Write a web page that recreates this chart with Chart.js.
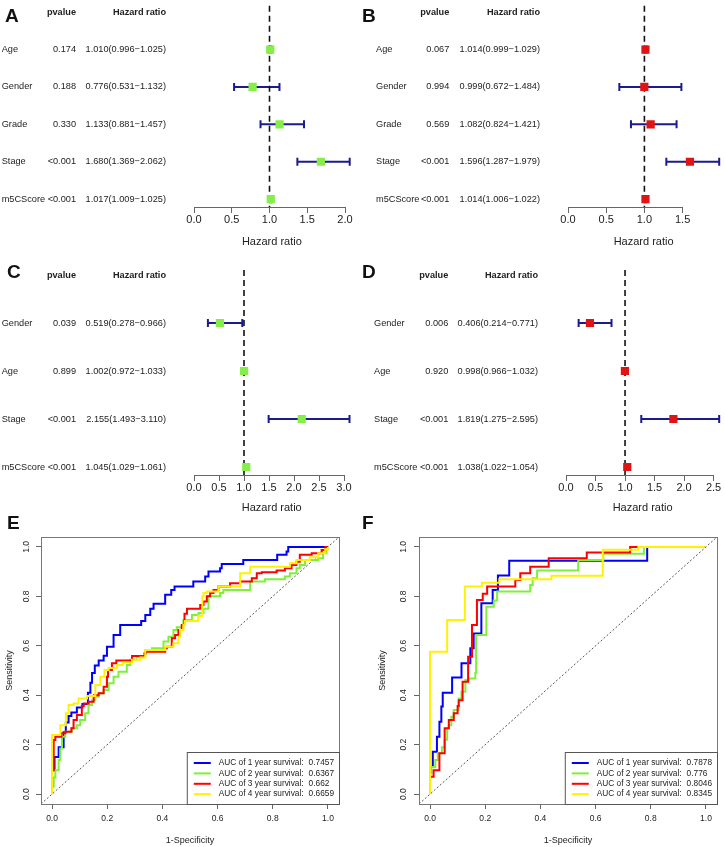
<!DOCTYPE html>
<html>
<head>
<meta charset="utf-8">
<script src="https://cdn.jsdelivr.net/npm/chart.js@4.4.0/dist/chart.umd.min.js"></script>
<style>
body { margin: 0; background: #fff; width: 725px; height: 847px; position: relative; overflow: hidden; font-family: "Liberation Sans", Arial, sans-serif; }
.panel { position: absolute; }
.tag { position: absolute; font: bold 19px/19px "Liberation Sans", Arial, sans-serif; color: #111; }
</style>
</head>
<body>
<div class="panel" style="left:0;top:0"><canvas id="cA" width="362" height="250"></canvas></div>
<div class="panel" style="left:362px;top:0"><canvas id="cB" width="363" height="250"></canvas></div>
<div class="panel" style="left:0;top:250px"><canvas id="cC" width="362" height="265"></canvas></div>
<div class="panel" style="left:362px;top:250px"><canvas id="cD" width="363" height="265"></canvas></div>
<div class="panel" style="left:0;top:515px"><canvas id="cE" width="362" height="332"></canvas></div>
<div class="panel" style="left:362px;top:515px"><canvas id="cF" width="363" height="332"></canvas></div>
<div class="tag" style="left:5px;top:6px">A</div>
<div class="tag" style="left:362px;top:6px">B</div>
<div class="tag" style="left:7px;top:262px">C</div>
<div class="tag" style="left:362px;top:262px">D</div>
<div class="tag" style="left:7px;top:513px">E</div>
<div class="tag" style="left:362px;top:513px">F</div>
<script>
// forest A
var namesA = ['Age', 'Gender', 'Grade', 'Stage', 'm5CScore'];
var pvalA = ['0.174', '0.188', '0.330', '<0.001', '<0.001'];
var hrA = [1.010, 0.776, 1.133, 1.680, 1.017];
var lowA = [0.996, 0.531, 0.881, 1.369, 1.009];
var highA = [1.025, 1.132, 1.457, 2.062, 1.025];
var ticksA = [0, 0.5, 1, 1.5, 2];

// forest B
var namesB = ['Age', 'Gender', 'Grade', 'Stage', 'm5CScore'];
var pvalB = ['0.067', '0.994', '0.569', '<0.001', '<0.001'];
var hrB = [1.014, 0.999, 1.082, 1.596, 1.014];
var lowB = [0.999, 0.672, 0.824, 1.287, 1.006];
var highB = [1.029, 1.484, 1.421, 1.979, 1.022];
var ticksB = [0, 0.5, 1, 1.5];

// forest C
var namesC = ['Gender', 'Age', 'Stage', 'm5CScore'];
var pvalC = ['0.039', '0.899', '<0.001', '<0.001'];
var hrC = [0.519, 1.002, 2.155, 1.045];
var lowC = [0.278, 0.972, 1.493, 1.029];
var highC = [0.966, 1.033, 3.110, 1.061];
var ticksC = [0, 0.5, 1, 1.5, 2, 2.5, 3];

// forest D
var namesD = ['Gender', 'Age', 'Stage', 'm5CScore'];
var pvalD = ['0.006', '0.920', '<0.001', '<0.001'];
var hrD = [0.406, 0.998, 1.819, 1.038];
var lowD = [0.214, 0.966, 1.275, 1.022];
var highD = [0.771, 1.032, 2.595, 1.054];
var ticksD = [0, 0.5, 1, 1.5, 2, 2.5];

// ROC curves, [1-specificity, sensitivity]
var rocTicks = [0, 0.2, 0.4, 0.6, 0.8, 1];
var rocYears = [1, 2, 3, 4];
var aucE = ['0.7457', '0.6367', '0.662', '0.6659'];
var aucF = ['0.7878', '0.776', '0.8046', '0.8345'];

var rocE1 = [[0,0],[0.009,0.097],[0.024,0.15],[0.042,0.19],[0.05,0.25],[0.06,0.29],[0.07,0.316],[0.09,0.33],[0.11,0.35],[0.13,0.365],[0.139,0.41],[0.145,0.45],[0.155,0.49],[0.169,0.52],[0.187,0.54],[0.199,0.56],[0.223,0.596],[0.247,0.644],[0.323,0.684],[0.338,0.70],[0.356,0.725],[0.368,0.75],[0.41,0.77],[0.432,0.806],[0.444,0.826],[0.512,0.84],[0.555,0.86],[0.567,0.88],[0.609,0.90],[0.615,0.914],[0.693,0.931],[0.816,0.947],[0.85,0.968],[0.856,0.981],[0.884,1],[1,1]];
var rocE2 = [[0,0],[0.006,0.03],[0.012,0.067],[0.024,0.097],[0.03,0.138],[0.036,0.185],[0.048,0.232],[0.072,0.252],[0.09,0.266],[0.102,0.279],[0.12,0.30],[0.132,0.327],[0.145,0.36],[0.157,0.38],[0.169,0.394],[0.187,0.408],[0.205,0.421],[0.223,0.448],[0.241,0.475],[0.271,0.495],[0.283,0.522],[0.307,0.543],[0.338,0.556],[0.362,0.583],[0.404,0.59],[0.422,0.617],[0.44,0.637],[0.452,0.664],[0.476,0.675],[0.507,0.704],[0.531,0.725],[0.549,0.733],[0.567,0.75],[0.609,0.80],[0.621,0.813],[0.718,0.826],[0.772,0.86],[0.844,0.869],[0.862,0.88],[0.886,0.893],[0.898,0.914],[0.917,0.927],[0.965,0.947],[0.982,0.954],[0.995,0.974],[1,0.99],[1,1]];
var rocE3 = [[0,0],[0.006,0.097],[0.012,0.219],[0.034,0.232],[0.048,0.246],[0.07,0.252],[0.078,0.266],[0.09,0.30],[0.108,0.32],[0.115,0.356],[0.133,0.367],[0.151,0.374],[0.169,0.40],[0.187,0.408],[0.199,0.434],[0.203,0.475],[0.217,0.502],[0.233,0.529],[0.29,0.54],[0.335,0.559],[0.34,0.57],[0.41,0.576],[0.416,0.59],[0.434,0.596],[0.446,0.63],[0.458,0.644],[0.47,0.664],[0.48,0.684],[0.489,0.73],[0.537,0.75],[0.549,0.765],[0.561,0.779],[0.573,0.80],[0.585,0.813],[0.603,0.826],[0.645,0.84],[0.682,0.853],[0.724,0.86],[0.742,0.873],[0.76,0.893],[0.814,0.897],[0.844,0.904],[0.868,0.914],[0.886,0.927],[0.898,0.94],[0.941,0.968],[0.977,0.974],[0.99,0.987],[1,1]];
var rocE4 = [[0,0],[0,0.202],[0.03,0.239],[0.05,0.279],[0.06,0.327],[0.078,0.36],[0.096,0.367],[0.127,0.387],[0.157,0.397],[0.175,0.441],[0.19,0.475],[0.205,0.502],[0.235,0.51],[0.256,0.522],[0.29,0.532],[0.32,0.543],[0.338,0.553],[0.41,0.583],[0.44,0.596],[0.458,0.61],[0.464,0.637],[0.476,0.664],[0.482,0.684],[0.53,0.70],[0.545,0.72],[0.549,0.80],[0.561,0.813],[0.603,0.82],[0.682,0.84],[0.718,0.893],[0.862,0.92],[0.886,0.934],[0.934,0.947],[0.965,0.958],[0.99,0.974],[1,0.99],[1,1]];

var rocF1 = [[0,0],[0.01,0.11],[0.025,0.171],[0.034,0.232],[0.041,0.293],[0.046,0.354],[0.08,0.41],[0.114,0.472],[0.146,0.529],[0.158,0.59],[0.186,0.65],[0.227,0.772],[0.246,0.826],[0.287,0.884],[0.787,0.944],[0.996,1]];
var rocF2 = [[0,0],[0.005,0.084],[0.019,0.11],[0.028,0.138],[0.043,0.165],[0.053,0.19],[0.062,0.22],[0.068,0.266],[0.077,0.279],[0.086,0.313],[0.104,0.34],[0.114,0.387],[0.128,0.414],[0.14,0.462],[0.164,0.468],[0.167,0.491],[0.204,0.644],[0.231,0.758],[0.243,0.783],[0.363,0.82],[0.372,0.846],[0.388,0.873],[0.537,0.904],[0.628,0.947],[0.775,0.972],[0.996,1]];
var rocF3 = [[0,0],[0.013,0.07],[0.034,0.097],[0.053,0.165],[0.068,0.266],[0.086,0.30],[0.1,0.327],[0.104,0.356],[0.118,0.38],[0.138,0.455],[0.152,0.556],[0.17,0.684],[0.191,0.785],[0.207,0.81],[0.309,0.84],[0.327,0.866],[0.363,0.893],[0.43,0.92],[0.568,0.954],[0.725,0.977],[0.996,1]];
var rocF4 = [[0,0],[0,0.34],[0.062,0.576],[0.126,0.704],[0.188,0.84],[0.251,0.855],[0.44,0.869],[0.626,0.883],[0.755,0.988],[0.996,1]];

var rocColors = ['#0000ff', '#7ff03a', '#ff0000', '#fff200'];
var FONT = '"Liberation Sans", Arial, Helvetica, sans-serif';

Chart.defaults.font.family = FONT;
Chart.defaults.color = '#222';
Chart.defaults.animation = false;

function forestPlugin(d, L) {
    return {
        id: 'forest',
        beforeDatasetsDraw: function(chart) {
            var x = chart.scales.x, y = chart.scales.y, ctx = chart.ctx, a = chart.chartArea;
            ctx.save();
            // confidence intervals
            ctx.strokeStyle = '#1b1b8c';
            ctx.lineWidth = 2;
            d.low.forEach(function(lo, i) {
                var py = y.getPixelForValue(i);
                var x1 = x.getPixelForValue(lo), x2 = x.getPixelForValue(d.high[i]);
                ctx.beginPath();
                ctx.moveTo(x1, py); ctx.lineTo(x2, py);
                ctx.moveTo(x1, py - 4); ctx.lineTo(x1, py + 4);
                ctx.moveTo(x2, py - 4); ctx.lineTo(x2, py + 4);
                ctx.stroke();
            });
            // HR = 1 line
            var rx = x.getPixelForValue(1);
            ctx.setLineDash([6, 4]);
            ctx.strokeStyle = '#111';
            ctx.lineWidth = 1.6;
            ctx.beginPath(); ctx.moveTo(rx, a.top); ctx.lineTo(rx, a.bottom); ctx.stroke();
            ctx.setLineDash([]);
            // axis line between first and last tick
            var t = x.ticks;
            ctx.strokeStyle = '#666';
            ctx.lineWidth = 1;
            ctx.beginPath();
            ctx.moveTo(x.getPixelForValue(t[0].value), a.bottom + 0.5);
            ctx.lineTo(x.getPixelForValue(t[t.length - 1].value), a.bottom + 0.5);
            ctx.stroke();
            // table
            ctx.fillStyle = '#222';
            ctx.textBaseline = 'middle';
            var hy = y.getPixelForValue(-1);
            ctx.font = 'bold 9.2px ' + FONT;
            ctx.textAlign = 'right';
            ctx.fillText('pvalue', L.cols[1], hy);
            ctx.fillText('Hazard ratio', L.cols[2], hy);
            ctx.font = '9.2px ' + FONT;
            d.names.forEach(function(n, i) {
                var py = y.getPixelForValue(i);
                ctx.textAlign = 'left';
                ctx.fillText(n, L.cols[0], py);
                ctx.textAlign = 'right';
                ctx.fillText(d.pval[i], L.cols[1], py);
                var txt = d.hr[i].toFixed(3) + '(' + d.low[i].toFixed(3) + '\u2212' + d.high[i].toFixed(3) + ')';
                ctx.fillText(txt, L.cols[2], py);
            });
            ctx.restore();
        }
    };
}

function drawForest(id, d, L) {
    return new Chart(document.getElementById(id), {
        type: 'scatter',
        data: {
            datasets: [{
                data: d.hr.map(function(v, i) { return {x: v, y: i}; }),
                pointStyle: 'rect',
                pointRadius: 5.8,
                pointHoverRadius: 5.8,
                backgroundColor: d.color,
                borderColor: d.color,
                borderWidth: 0
            }]
        },
        options: {
            responsive: false,
            layout: { padding: L.pad },
            plugins: { legend: { display: false }, tooltip: { enabled: false } },
            scales: {
                x: {
                    type: 'linear',
                    min: 0,
                    max: Math.max.apply(null, d.high),
                    afterBuildTicks: function(s) { s.ticks = d.ticks.map(function(v) { return {value: v}; }); },
                    afterFit: function(s) { s.height = L.axisH; },
                    border: { display: false },
                    grid: { drawOnChartArea: false, drawTicks: true, tickLength: 6, color: '#666' },
                    ticks: {
                        autoSkip: false, maxRotation: 0, padding: 0,
                        color: '#222',
                        font: { size: 11 },
                        callback: function(v) { return Number(v).toFixed(1); }
                    },
                    title: { display: true, text: 'Hazard ratio', color: '#222', font: { size: 11 }, padding: { top: 0, bottom: L.titlePad } }
                },
                y: { type: 'linear', display: false, reverse: true, min: L.yMin, max: L.yMax }
            }
        },
        plugins: [forestPlugin(d, L)]
    });
}

function rocPlugin(auc, L) {
    return {
        id: 'roc',
        afterDatasetsDraw: function(chart) {
            var a = chart.chartArea, ctx = chart.ctx, y = chart.scales.y;
            ctx.save();
            // box
            ctx.strokeStyle = '#777';
            ctx.lineWidth = 1;
            ctx.strokeRect(a.left + 0.5, a.top + 0.5, a.right - a.left, a.bottom - a.top);
            // rotated y tick labels
            ctx.fillStyle = '#222';
            ctx.font = '8.5px ' + FONT;
            ctx.textAlign = 'center';
            ctx.textBaseline = 'middle';
            rocTicks.forEach(function(v) {
                ctx.save();
                ctx.translate(a.left - L.yLab, y.getPixelForValue(v));
                ctx.rotate(-Math.PI / 2);
                ctx.fillText(v.toFixed(1), 0, 0);
                ctx.restore();
            });
            // legend
            ctx.font = '8.3px ' + FONT;
            var labels = rocYears.map(function(yr) { return 'AUC of ' + yr + ' year survival:'; });
            var preW = Math.max.apply(null, labels.map(function(l) { return ctx.measureText(l).width; }));
            var valW = Math.max.apply(null, auc.map(function(v) { return ctx.measureText(v).width; }));
            var w = 7 + 17 + 8 + preW + 5 + valW + 5, h = 52;
            var left = a.right - w, top = a.bottom - h;
            ctx.fillStyle = '#fff';
            ctx.fillRect(left, top, w, h);
            ctx.strokeStyle = '#555';
            ctx.strokeRect(left + 0.5, top + 0.5, w, h);
            ctx.textAlign = 'left';
            labels.forEach(function(l, i) {
                var ly = top + 11 + i * 10.4;
                ctx.strokeStyle = rocColors[i];
                ctx.lineWidth = 2;
                ctx.beginPath(); ctx.moveTo(left + 7, ly); ctx.lineTo(left + 24, ly); ctx.stroke();
                ctx.fillStyle = '#222';
                ctx.fillText(l, left + 32, ly);
                ctx.fillText(auc[i], left + 32 + preW + 5, ly);
            });
            ctx.restore();
        }
    };
}

function drawRoc(id, curves, auc, L) {
    var ds = curves.map(function(c, i) {
        return {
            data: c.map(function(p) { return {x: p[0], y: p[1]}; }),
            showLine: true,
            stepped: 'after',
            borderColor: rocColors[i],
            borderWidth: 2,
            pointRadius: 0,
            fill: false,
            order: 4 - i
        };
    });
    ds.push({
        data: [{x: -0.04, y: -0.04}, {x: 1.04, y: 1.04}],
        showLine: true,
        borderColor: '#555',
        borderWidth: 1,
        borderDash: [2, 2],
        pointRadius: 0,
        order: 10
    });
    return new Chart(document.getElementById(id), {
        type: 'scatter',
        data: { datasets: ds },
        options: {
            responsive: false,
            layout: { padding: L.pad },
            plugins: { legend: { display: false }, tooltip: { enabled: false } },
            scales: {
                x: {
                    type: 'linear', min: -0.04, max: 1.04,
                    afterBuildTicks: function(s) { s.ticks = rocTicks.map(function(v) { return {value: v}; }); },
                    afterFit: function(s) { s.height = 43; },
                    border: { display: false },
                    grid: { drawOnChartArea: false, drawTicks: true, tickLength: 5, color: '#666' },
                    ticks: {
                        autoSkip: false, maxRotation: 0, padding: 5, color: '#222',
                        font: { size: 8.5 },
                        callback: function(v) { return Number(v).toFixed(1); }
                    },
                    title: { display: true, text: '1-Specificity', color: '#222', font: { size: 9 }, padding: { top: 0, bottom: 0.6 } }
                },
                y: {
                    type: 'linear', min: -0.04, max: 1.04,
                    afterBuildTicks: function(s) { s.ticks = rocTicks.map(function(v) { return {value: v}; }); },
                    afterFit: function(s) { s.width = L.yW; },
                    border: { display: false },
                    grid: { drawOnChartArea: false, drawTicks: true, tickLength: 5, color: '#666' },
                    ticks: { display: false },
                    title: { display: true, text: 'Sensitivity', color: '#222', font: { size: 9 }, padding: { top: L.yTitlePad, bottom: 0 } }
                }
            }
        },
        plugins: [rocPlugin(auc, L)]
    });
}

var greenBox = '#86ee48';
var redBox = '#e01414';

drawForest('cA', {names: namesA, pval: pvalA, hr: hrA, low: lowA, high: highA, ticks: ticksA, color: greenBox},
    {pad: {left: 194, right: 12.3, top: 0, bottom: 0}, axisH: 43, titlePad: 1.4, yMin: -1.17, yMax: 4.21, cols: [1.7, 76, 166]});
drawForest('cB', {names: namesB, pval: pvalB, hr: hrB, low: lowB, high: highB, ticks: ticksB, color: redBox},
    {pad: {left: 206, right: 2, top: 0, bottom: 0}, axisH: 43, titlePad: 1.4, yMin: -1.17, yMax: 4.21, cols: [14, 87.3, 178]});
drawForest('cC', {names: namesC, pval: pvalC, hr: hrC, low: lowC, high: highC, ticks: ticksC, color: greenBox},
    {pad: {left: 194, right: 12.5, top: 20, bottom: 0}, axisH: 40, titlePad: 0.4, yMin: -1.104, yMax: 3.167, cols: [1.7, 76, 166]});
drawForest('cD', {names: namesD, pval: pvalD, hr: hrD, low: lowD, high: highD, ticks: ticksD, color: redBox},
    {pad: {left: 204, right: 3.5, top: 20, bottom: 0}, axisH: 40, titlePad: 0.4, yMin: -1.104, yMax: 3.167, cols: [12, 86.3, 176]});

drawRoc('cE', [rocE1, rocE2, rocE3, rocE4], aucE,
    {pad: {left: 0, right: 23, top: 22, bottom: 0}, yW: 41, yTitlePad: 4.6, yLab: 14});
drawRoc('cF', [rocF1, rocF2, rocF3, rocF4], aucF,
    {pad: {left: 0, right: 8, top: 22, bottom: 0}, yW: 57, yTitlePad: 15.6, yLab: 15.3});
</script>
</body>
</html>
